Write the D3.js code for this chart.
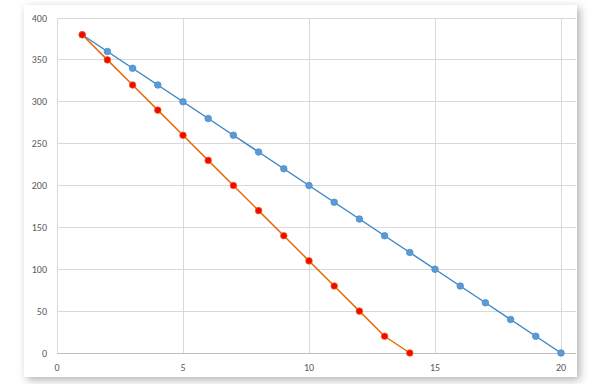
<!DOCTYPE html>
<html>
<head>
<meta charset="utf-8">
<script src="https://cdn.jsdelivr.net/npm/d3@7"></script>
<style>
  body { margin: 0; background: #fff; }
  svg { display: block; font-family: Calibri, Carlito, "Liberation Sans", Arial, sans-serif; }
</style>
</head>
<body>
<svg id="chart" width="600" height="384"></svg>
<script>
// Data
const blueX = [1, 2, 3, 4, 5, 6, 7, 8, 9, 10, 11, 12, 13, 14, 15, 16, 17, 18, 19, 20];
const blueY = [380, 360, 340, 320, 300, 280, 260, 240, 220, 200, 180, 160, 140, 120, 100, 80, 60, 40, 20, 0];
const orangeX = [1, 2, 3, 4, 5, 6, 7, 8, 9, 10, 11, 12, 13, 14];
const orangeY = [380, 350, 320, 290, 260, 230, 200, 170, 140, 110, 80, 50, 20, 0];
const xTicks = [0, 5, 10, 15, 20];
const yTicks = [0, 50, 100, 150, 200, 250, 300, 350, 400];

const svg = d3.select("#chart");

// card with soft shadow
const defs = svg.append("defs");
const f = defs.append("filter").attr("id", "shadow")
    .attr("x", "-10%").attr("y", "-10%").attr("width", "120%").attr("height", "120%");
f.append("feDropShadow").attr("dx", 3).attr("dy", 3).attr("stdDeviation", 4)
    .attr("flood-color", "#000").attr("flood-opacity", 0.3);

svg.append("rect")
    .attr("x", 24).attr("y", 5)
    .attr("width", 553).attr("height", 372)
    .attr("fill", "#fff")
    .attr("filter", "url(#shadow)");

// scales
const x = d3.scaleLinear().domain([0, 20]).range([57, 561]);
const y = d3.scaleLinear().domain([0, 400]).range([353, 18]);
const plotRight = 576;

// gridlines
svg.append("g").selectAll("line")
    .data(yTicks.filter(d => d > 0))
    .enter().append("line")
    .attr("x1", x(0)).attr("x2", plotRight)
    .attr("y1", d => y(d)).attr("y2", d => y(d))
    .attr("stroke", "#d9d9d9").attr("stroke-width", 1)
    .attr("shape-rendering", "crispEdges");

svg.append("g").selectAll("line")
    .data(xTicks)
    .enter().append("line")
    .attr("x1", d => x(d)).attr("x2", d => x(d))
    .attr("y1", y(400)).attr("y2", y(0))
    .attr("stroke", "#d9d9d9").attr("stroke-width", 1)
    .attr("shape-rendering", "crispEdges");

// bottom axis line
svg.append("line")
    .attr("x1", x(0)).attr("x2", plotRight)
    .attr("y1", y(0)).attr("y2", y(0))
    .attr("stroke", "#bfbfbf").attr("stroke-width", 1)
    .attr("shape-rendering", "crispEdges");

// tick labels
svg.append("g").selectAll("text")
    .data(yTicks)
    .enter().append("text")
    .attr("x", 47)
    .attr("y", d => y(d))
    .attr("dy", "0.35em")
    .attr("text-anchor", "end")
    .attr("font-size", 10)
    .attr("fill", "#595959")
    .text(d => d);

svg.append("g").selectAll("text")
    .data(xTicks)
    .enter().append("text")
    .attr("x", d => x(d))
    .attr("y", 371)
    .attr("text-anchor", "middle")
    .attr("font-size", 10)
    .attr("fill", "#595959")
    .text(d => d);

// series
const line = d3.line().x(d => x(d[0])).y(d => y(d[1]));
const blue = blueX.map((v, i) => [v, blueY[i]]);
const orange = orangeX.map((v, i) => [v, orangeY[i]]);

svg.append("path")
    .attr("d", line(blue))
    .attr("fill", "none")
    .attr("stroke", "#3a87c8")
    .attr("stroke-width", 1.5);

svg.append("path")
    .attr("d", line(orange))
    .attr("fill", "none")
    .attr("stroke", "#e36c09")
    .attr("stroke-width", 1.5);

svg.append("g").selectAll("circle")
    .data(blue)
    .enter().append("circle")
    .attr("cx", d => x(d[0])).attr("cy", d => y(d[1]))
    .attr("r", 3.3)
    .attr("fill", "#5b9bd5")
    .attr("stroke", "#4a8cc9").attr("stroke-width", 0.75);

svg.append("g").selectAll("circle")
    .data(orange)
    .enter().append("circle")
    .attr("cx", d => x(d[0])).attr("cy", d => y(d[1]))
    .attr("r", 3.3)
    .attr("fill", "#ff0000")
    .attr("stroke", "#e36c09").attr("stroke-width", 0.75);
</script>
</body>
</html>
